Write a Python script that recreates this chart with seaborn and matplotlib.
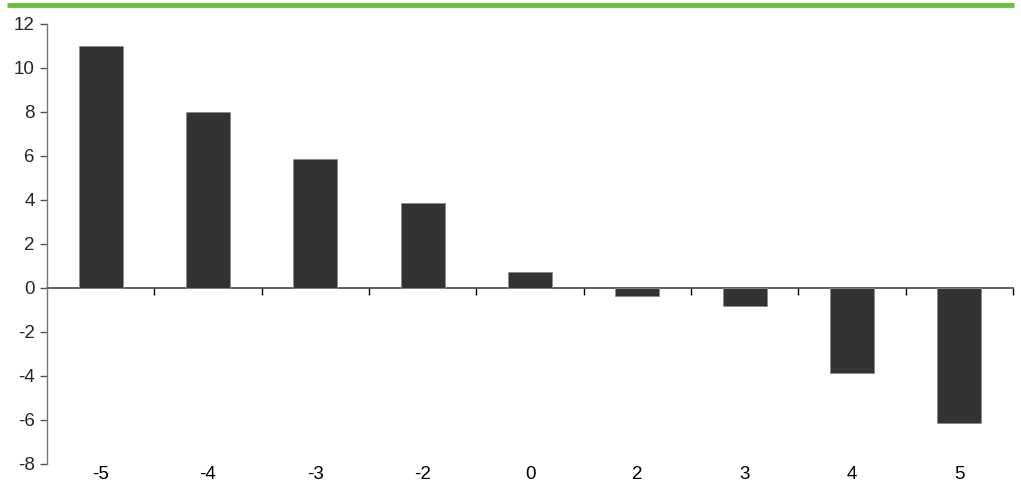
import matplotlib
matplotlib.use("Agg")
import matplotlib.pyplot as plt
import matplotlib.lines as mlines
import numpy as np
import pandas as pd
import seaborn as sns

# Data
categories = ["-5", "-4", "-3", "-2", "0", "2", "3", "4", "5"]
values = [11.0, 8.0, 5.85, 3.85, 0.72, -0.35, -0.83, -3.88, -6.15]
y_ticks = [-8, -6, -4, -2, 0, 2, 4, 6, 8, 10, 12]

sns.set_theme(style="white")
plt.rcParams["font.family"] = ["Liberation Sans", "DejaVu Sans"]
plt.rcParams["axes.unicode_minus"] = False

df = pd.DataFrame({"category": categories, "value": values})

fig = plt.figure(figsize=(10.21, 4.8), dpi=100)
ax = fig.add_axes([47 / 1021, 16 / 480, 966 / 1021, 440 / 480])

sns.barplot(data=df, x="category", y="value", order=categories,
            color="#333333", width=0.41, edgecolor="#8a8a8a",
            linewidth=0.6, saturation=1, ax=ax)

ax.set_xlim(-0.5, len(categories) - 0.5)
ax.set_ylim(y_ticks[0], y_ticks[-1])
ax.set_yticks(y_ticks)
ax.set_yticklabels([str(t) for t in y_ticks])
ax.set_xlabel("")
ax.set_ylabel("")

for side in ("top", "right", "bottom"):
    ax.spines[side].set_visible(False)
ax.spines["left"].set_color("#777777")
ax.spines["left"].set_linewidth(1.0)

ax.tick_params(axis="y", direction="out", length=5, width=1,
               color="#555555", labelsize=13.5, pad=4, left=True)
ax.tick_params(axis="x", length=0, labelsize=13.5, pad=1.5, labelcolor="black")

# Zero line with category-boundary tick marks
zero_axis = ax.secondary_xaxis(0, transform=ax.transData)
zero_axis.set_xticks(np.arange(len(categories)) + 0.5)
zero_axis.set_xticklabels([])
zero_axis.tick_params(axis="x", direction="out", length=5, width=1,
                      color="black")
zero_axis.spines["bottom"].set_color("#444444")
zero_axis.spines["bottom"].set_linewidth(1.2)

# Green rule across the top
fig.add_artist(mlines.Line2D([7 / 1021, 1014 / 1021], [1 - 5 / 480, 1 - 5 / 480],
                             transform=fig.transFigure, color="#6abf3a",
                             linewidth=3.5, solid_capstyle="butt"))

fig.savefig("out.png", dpi=100)
